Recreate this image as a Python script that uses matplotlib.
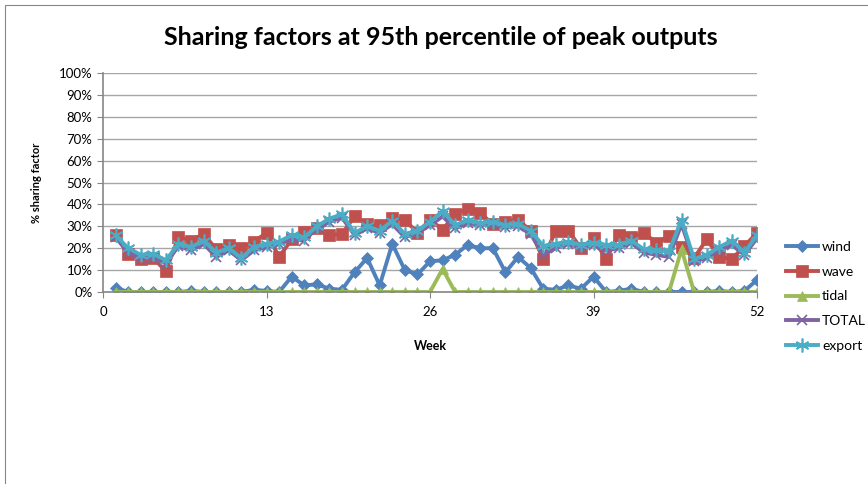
import numpy as np
import matplotlib.pyplot as plt
from matplotlib.lines import Line2D
from matplotlib.ticker import PercentFormatter, FixedLocator

plt.rcParams['font.family'] = ['Lato', 'DejaVu Sans']

weeks = np.arange(1, 53)

wind = [2, 0, 0, 0, 0, 0, 0.5, 0, 0, 0, 0, 1, 0.5, 0, 7, 3, 3.5, 1.5, 1, 9,
        15.5, 3, 22, 10, 8, 14, 14.5, 17, 21.5, 20, 20, 9, 16, 11, 1.5, 1, 3, 1.5, 7, 0,
        0.5, 1.5, 0, 0, 0, 0, 0, 0, 0.5, 0, 0.5, 5.5]
wave = [26, 17.5, 15, 15.5, 9.5, 25, 23.5, 26.5, 19.5, 21.5, 20, 23, 27, 16, 24, 27.5, 29, 26, 26.5, 34.5,
        31, 30.5, 34, 33, 27, 33, 28.5, 35.5, 38, 36, 31, 32, 33, 28, 15, 28, 28, 20, 24.5, 15,
        26, 25, 27, 22.5, 25.5, 20.5, 15.5, 24, 16, 15, 21, 27]
tidal = [0] * 26 + [10.5] + [0] * 18 + [19.5] + [0] * 6
total = [25, 18, 15.5, 15.5, 13, 21, 19, 22, 16, 19, 14.5, 19, 20.5, 22, 24, 23.5, 29, 32, 34, 26,
         29, 27, 31, 25, 27, 30.5, 34.5, 29, 31.5, 30.5, 31, 29.5, 30, 26.5, 17, 20, 22, 20, 21.5, 19,
         20, 22.5, 18, 17, 16, 31, 14, 15.5, 19, 21.5, 17, 24.5]
export = [26, 20, 17, 17.5, 14.5, 22, 20.5, 23.5, 18, 20, 15.5, 20.5, 22, 23, 26, 25, 30, 33.5, 35.5, 27,
          30, 28, 32.5, 26.5, 28, 32, 37, 30.5, 33, 31.5, 32, 30.5, 31, 28, 21, 22, 23, 21.5, 22.5, 21.5,
          21.5, 23.5, 19.5, 19, 18.5, 33, 15, 17, 20.5, 23.5, 18, 26]

# asterisk marker like Excel's "*" (vertical bar plus two diagonals)
asterisk = (6, 2, 0)

series = [
    ("wind", wind, "#4F81BD", "D", 6),
    ("wave", wave, "#C0504D", "s", 8),
    ("tidal", tidal, "#9BBB59", "^", 7),
    ("TOTAL", total, "#8064A2", "x", 7),
    ("export", export, "#4BACC6", asterisk, 10),
]

fig = plt.figure(figsize=(8.68, 4.84), dpi=100)
# chart frame: only the left and top edges show in the picture
fx, fy = 5 / 868, 1 - 5 / 484
fig.add_artist(Line2D([fx, fx, 1], [0, fy, fy], transform=fig.transFigure,
                      color="#868686", linewidth=0.8))

ax = fig.add_axes([103 / 868, 192 / 484, 654 / 868, 219 / 484])
for name, vals, col, mk, ms in series:
    thin = mk in ("x", asterisk)
    ax.plot(weeks, np.array(vals) / 100, color=col, marker=mk, markersize=ms,
            linewidth=2.8, label=name, markeredgewidth=1.2 if thin else 0.5)

ax.set_xlim(0, 52)
ax.set_ylim(0, 1)
ax.xaxis.set_major_locator(FixedLocator([0, 13, 26, 39, 52]))
ax.yaxis.set_major_locator(FixedLocator(np.arange(0, 1.01, 0.1)))
ax.yaxis.set_major_formatter(PercentFormatter(1.0, decimals=0))
ax.grid(axis="y", color="#A6A6A6", linewidth=1)
ax.set_axisbelow(True)
for s in ["top", "right"]:
    ax.spines[s].set_visible(False)
for s in ["left", "bottom"]:
    ax.spines[s].set_color("#868686")
    ax.spines[s].set_linewidth(1.2)
ax.tick_params(axis="both", labelsize=9.5, color="#868686", length=4)
ax.tick_params(axis="x", pad=6)

ax.set_title("Sharing factors at 95th percentile of peak outputs", fontsize=18,
             fontweight="bold", pad=20, x=0.517)
ax.set_xlabel("Week", fontsize=9, fontweight="bold", labelpad=16)
ax.set_ylabel("% sharing factor", fontsize=8, fontweight="bold", labelpad=12)

ax.legend(loc="center left", bbox_to_anchor=(1.025, -0.02), frameon=False,
          fontsize=10, handlelength=2.3, labelspacing=0.91, handletextpad=0.3)

fig.savefig("out.png", dpi=100)
